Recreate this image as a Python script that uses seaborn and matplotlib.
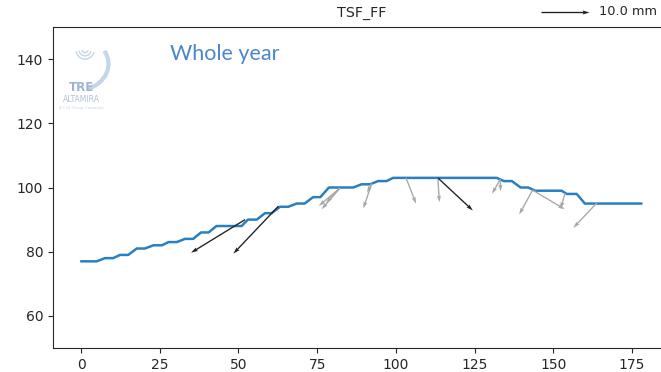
import numpy as np
import pandas as pd
import matplotlib
matplotlib.use("Agg")
import matplotlib.pyplot as plt
import seaborn as sns
from matplotlib.patches import Arc

# Perfil del talud (vertices)
dist = [0, 5, 7.6, 10.2, 12.4, 15, 17.7, 20.3, 23, 25.7, 27.8, 30.4, 33, 35.6,
        38.1, 40.5, 43, 51, 53, 55.8, 58.4, 60.5, 63.2, 65.8, 68.5, 71, 73.7,
        76, 78.7, 86.4, 89.1, 91.8, 94.3, 97, 99.1, 132, 134.3, 136.8, 139.6,
        142, 144.2, 152.6, 154.2, 157.4, 160, 178]
elev = [77, 77, 78, 78, 79, 79, 81, 81, 82, 82, 83, 83, 84, 84,
        86, 86, 88, 88, 90, 90, 92, 92, 94, 94, 95, 95, 97,
        97, 100, 100, 101, 101, 102, 102, 103, 103, 102, 102, 100,
        100, 99, 99, 98, 98, 95, 95]

# Desplazamientos (mm): puntos fuertes en negro
blk_x = [52.1, 62.7, 113.3]
blk_y = [90.0, 94.2, 103.0]
blk_u = [-11.25, -9.4, 7.3]
blk_v = [-6.9, -9.9, -6.8]

# Desplazamientos (mm): resto en gris
gry_x = [82.2, 82.2, 82.2, 92.3, 92.3, 103.2, 113.3, 133.1, 133.1, 143.4, 143.4, 153.7, 163.8]
gry_y = [99.8, 99.8, 99.8, 101.2, 101.2, 103.0, 103.0, 102.5, 102.5, 99.2, 99.2, 98.3, 95.2]
gry_u = [-4.4, -3.8, -2.9, -1.75, -1.0, 2.1, 0.33, -1.7, 0.1, -2.8, 6.7, -0.9, -4.9]
gry_v = [-3.7, -4.4, -3.1, -5.2, -1.9, -5.4, -5.1, -3.0, -2.5, -5.1, -4.0, -3.3, -5.2]

x_ticks = [0, 25, 50, 75, 100, 125, 150, 175]
y_ticks = [60, 80, 100, 120, 140]

sns.set_style("ticks")
plt.rcParams["font.family"] = ["DejaVu Sans"]

fig = plt.figure(figsize=(6.61, 3.72), dpi=100)
ax = fig.add_axes([0.0802, 0.0645, 0.9328, 0.8629])

profile = pd.DataFrame({"dist": dist, "elev": elev})
sns.lineplot(data=profile, x="dist", y="elev", ax=ax, color="#2a7fc1", linewidth=1.8)

qscale = 1 / 0.048  # 10 mm -> 48 px
ax.quiver(gry_x, gry_y, gry_u, gry_v, color="#a8a8a8", scale=qscale,
          scale_units="inches", width=0.0022, zorder=3)
q = ax.quiver(blk_x, blk_y, blk_u, blk_v, color="#222222", scale=qscale,
              scale_units="inches", width=0.0022, zorder=4)
ax.quiverkey(q, 0.891, 0.968, 10, "10.0 mm", labelpos="E", coordinates="figure",
             color="#222222", fontproperties={"size": 9.3})

ax.set_xlim(-8.9, 186.9)
ax.set_ylim(50, 150)
ax.set_xticks(x_ticks)
ax.set_yticks(y_ticks)
ax.set_xlabel("")
ax.set_ylabel("")
ax.tick_params(labelsize=10)
ax.set_title("TSF_FF", fontsize=10.3, pad=7)

ax.text(0.19, 0.915, "Whole year", transform=ax.transAxes, color="#4a86cf",
        fontsize=15.5, family="Lato", va="center")

# logo apagado arriba a la izquierda
logo_c = "#c3d5e8"
ax.add_patch(Arc((0.035, 0.885), 0.11, 0.17, angle=0, theta1=285, theta2=40,
                 transform=ax.transAxes, color=logo_c, lw=3))
for w, h in [(0.03, 0.06), (0.02, 0.04), (0.01, 0.02)]:
    ax.add_patch(Arc((0.052, 0.93), w, h, angle=0, theta1=200, theta2=330,
                     transform=ax.transAxes, color=logo_c, lw=1.0))
ax.text(0.046, 0.81, "TRE", transform=ax.transAxes, color="#9fb4cc",
        fontsize=8.5, fontweight="bold", ha="center", va="center")
ax.text(0.046, 0.773, "ALTAMIRA", transform=ax.transAxes, color="#b0c3d7",
        fontsize=5.5, ha="center", va="center")
ax.text(0.046, 0.748, "A CLS Group Company", transform=ax.transAxes, color="#c9d5e2",
        fontsize=2.8, ha="center", va="center")

fig.savefig("out.png", dpi=100)
